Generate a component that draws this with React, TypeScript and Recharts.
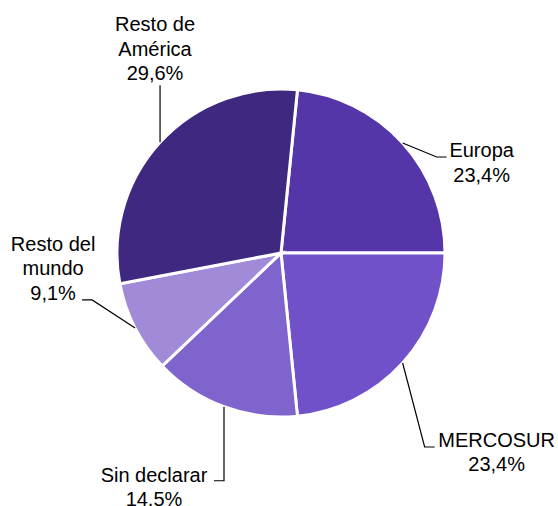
import { PieChart, Pie, Cell } from 'recharts'

const regions = ['Europa', 'MERCOSUR', 'Sin declarar', 'Resto del mundo', 'Resto de América']
const shares = [23.4, 23.4, 14.5, 9.1, 29.6]
const labelLines = [['Europa'], ['MERCOSUR'], ['Sin declarar'], ['Resto del', 'mundo'], ['Resto de', 'América']]

const colors = ['#5436A8', '#7051C9', '#8064CE', '#A18BD9', '#3F2880']

// leader line + label placement, as offsets from the slice's outer midpoint
const labelLayout = [
  { elbow: [34, 14], end: [44, 14], text: [79, 14] },
  { elbow: [22, 84], end: [32, 84], text: [94, 84] },
  { elbow: [0, 74], end: [-10, 74], text: [-70, 75] },
  { elbow: [-43, -28], end: [-53, -28], text: [-82, -77] },
  { elbow: [0, -57], end: [0, -57], text: [-5, -111] },
]

const data = regions.map((name, i) => ({ name, value: shares[i] }))

const RAD = Math.PI / 180
const LINE_H = 24.5

const formatPct = (v: number) => v.toFixed(1).replace('.', ',') + '%'

function SliceLabel(props: any) {
  const { cx, cy, midAngle, outerRadius, index, value } = props
  const ax = cx + outerRadius * Math.cos(-midAngle * RAD)
  const ay = cy + outerRadius * Math.sin(-midAngle * RAD)
  const l = labelLayout[index]
  const lines = [...labelLines[index], formatPct(value)]
  const tx = ax + l.text[0]
  const ty = ay + l.text[1]
  return (
    <g>
      <polyline
        points={`${ax},${ay} ${ax + l.elbow[0]},${ay + l.elbow[1]} ${ax + l.end[0]},${ay + l.end[1]}`}
        fill="none"
        stroke="#000"
        strokeWidth={1.2}
      />
      <text
        x={tx}
        y={ty}
        textAnchor="middle"
        fontFamily="'Liberation Sans', Arial, sans-serif"
        fontSize={20}
        fill="#000"
      >
        {lines.map((line, i) => (
          <tspan key={i} x={tx} y={ty + i * LINE_H}>
            {line}
          </tspan>
        ))}
      </text>
    </g>
  )
}

export default function App() {
  return (
    <div style={{ width: 558, height: 506, background: '#fff' }}>
      <style>{'body{margin:0}'}</style>
      <PieChart width={558} height={506} margin={{ top: 0, right: 0, bottom: 0, left: 0 }}>
        <Pie
          data={data}
          dataKey="value"
          nameKey="name"
          cx={281}
          cy={253}
          outerRadius={164}
          startAngle={84.24}
          endAngle={84.24 - 360}
          stroke="#fff"
          strokeWidth={3}
          labelLine={false}
          label={SliceLabel}
          isAnimationActive={false}
        >
          {data.map((entry, i) => (
            <Cell key={entry.name} fill={colors[i]} />
          ))}
        </Pie>
      </PieChart>
    </div>
  )
}
